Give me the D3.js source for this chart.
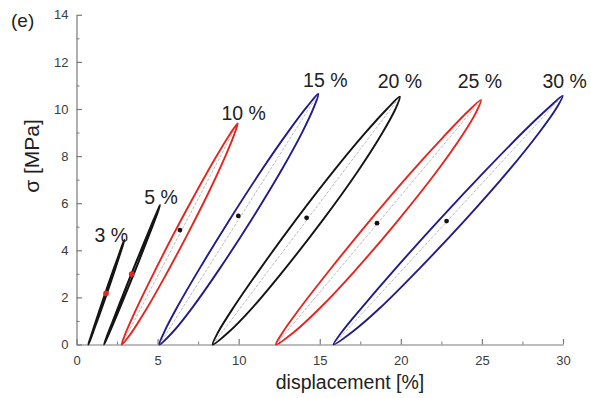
<!DOCTYPE html>
<html>
<head>
<meta charset="utf-8">
<script src="https://cdn.jsdelivr.net/npm/d3@7/dist/d3.min.js"></script>
<style>
  html, body { margin: 0; padding: 0; background: #fff; }
  svg { display: block; font-family: "Liberation Sans", Arial, sans-serif; }
</style>
</head>
<body>
<svg id="chart" width="591" height="398"></svg>
<script>
// ---------- data (displacement [%], stress [MPa]) ----------
const strainLabels = ["3 %", "5 %", "10 %", "15 %", "20 %", "25 %", "30 %"];
const loopColors = ["black", "black", "red", "navy", "black", "red", "navy"];

// loading (lower) branches, bottom -> peak
const load3  = [[0.73,0],[0.86,0.22],[1.10,0.67],[1.45,1.33],[1.90,2.22],[2.34,3.11],[2.65,3.77],[2.86,4.22],[2.95,4.44]];
const load5  = [[1.70,0],[1.90,0.30],[2.27,0.89],[2.81,1.78],[3.51,2.96],[4.19,4.14],[4.69,5.03],[5.01,5.62],[5.15,5.92]];
const load10 = [[2.79,0],[3.36,0.47],[4.23,1.41],[5.40,2.82],[6.86,4.70],[8.23,6.57],[9.17,7.98],[9.73,8.92],[9.94,9.39]];
const load15 = [[5.11,0],[5.94,0.53],[7.18,1.60],[8.80,3.19],[10.81,5.32],[12.68,7.45],[13.94,9.04],[14.66,10.11],[14.91,10.64]];
const load20 = [[8.40,0],[9.39,0.53],[10.87,1.58],[12.79,3.16],[15.16,5.26],[17.35,7.36],[18.82,8.94],[19.66,9.99],[19.94,10.52]];
const load25 = [[12.30,0],[13.40,0.52],[15.03,1.56],[17.14,3.11],[19.73,5.19],[22.13,7.27],[23.73,8.82],[24.64,9.86],[24.94,10.38]];
const load30 = [[15.85,0],[17.00,0.53],[18.76,1.58],[21.07,3.17],[23.96,5.28],[26.66,7.39],[28.51,8.98],[29.59,10.03],[29.98,10.56]];

// unloading (upper) branches, bottom -> peak
const unload3  = [[0.73,0],[0.83,0.22],[1.04,0.67],[1.36,1.33],[1.79,2.22],[2.24,3.11],[2.59,3.77],[2.82,4.22],[2.95,4.44]];
const unload5  = [[1.70,0],[1.85,0.30],[2.18,0.89],[2.68,1.78],[3.36,2.96],[4.06,4.14],[4.59,5.03],[4.96,5.62],[5.15,5.92]];
const unload10 = [[2.79,0],[3.02,0.47],[3.62,1.41],[4.61,2.82],[6.00,4.70],[7.46,6.57],[8.62,7.98],[9.45,8.92],[9.94,9.39]];
const unload15 = [[5.11,0],[5.41,0.53],[6.22,1.60],[7.56,3.19],[9.46,5.32],[11.46,7.45],[13.06,9.04],[14.23,10.11],[14.91,10.64]];
const unload20 = [[8.40,0],[8.74,0.53],[9.69,1.58],[11.27,3.16],[13.49,5.26],[15.85,7.36],[17.75,8.94],[19.13,9.99],[19.94,10.52]];
const unload25 = [[12.30,0],[12.72,0.52],[13.80,1.56],[15.55,3.11],[18.00,5.19],[20.58,7.27],[22.63,8.82],[24.09,9.86],[24.94,10.38]];
const unload30 = [[15.85,0],[16.36,0.53],[17.61,1.58],[19.60,3.17],[22.36,5.28],[25.23,7.39],[27.48,8.98],[29.08,10.03],[29.98,10.56]];

// loop centre points
const centerDisp   = [1.82, 3.40, 6.38, 9.98, 14.19, 18.53, 22.82];
const centerStress = [2.17, 2.99, 4.86, 5.46, 5.38, 5.15, 5.24];

// axis ticks
const xTicks = [0, 5, 10, 15, 20, 25, 30];
const xMinorTicks = [2.5, 7.5, 12.5, 17.5, 22.5, 27.5];
const yTicks = [0, 2, 4, 6, 8, 10, 12, 14];
const yMinorTicks = [1, 3, 5, 7, 9, 11, 13];

// ---------- drawing ----------
const loadBranches = [load3, load5, load10, load15, load20, load25, load30];
const unloadBranches = [unload3, unload5, unload10, unload15, unload20, unload25, unload30];

const colorMap = { black: "#141414", red: "#e3261f", navy: "#231c86" };
const svg = d3.select("#chart");
svg.append("rect").attr("width", 591).attr("height", 398).attr("fill", "#fff");

const x = d3.scaleLinear().domain([0, 30]).range([76.5, 563]);
const y = d3.scaleLinear().domain([0, 14]).range([344.5, 14.8]);

const axisColor = "#7a7a7a";
const tickTextColor = "#3a3a3a";

// minor ticks
svg.append("g").attr("transform", "translate(0,344.5)")
  .call(d3.axisBottom(x).tickValues(xMinorTicks).tickSize(-3).tickFormat(""))
  .call(g => g.select(".domain").remove())
  .call(g => g.selectAll("line").attr("stroke", axisColor));
svg.append("g").attr("transform", "translate(76.5,0)")
  .call(d3.axisLeft(y).tickValues(yMinorTicks).tickSize(-3).tickFormat(""))
  .call(g => g.select(".domain").remove())
  .call(g => g.selectAll("line").attr("stroke", axisColor));

// major axes
const xAxis = svg.append("g").attr("transform", "translate(0,344.5)")
  .call(d3.axisBottom(x).tickValues(xTicks).tickSizeInner(-5.5).tickSizeOuter(0).tickPadding(8).tickFormat(d3.format("d")));
const yAxis = svg.append("g").attr("transform", "translate(76.5,0)")
  .call(d3.axisLeft(y).tickValues(yTicks).tickSizeInner(-5.5).tickSizeOuter(0).tickPadding(8).tickFormat(d3.format("d")));
[xAxis, yAxis].forEach(g => {
  g.select(".domain").attr("stroke", axisColor).attr("stroke-width", 1.2);
  g.selectAll(".tick line").attr("stroke", axisColor).attr("stroke-width", 1.2);
  g.selectAll(".tick text").attr("fill", tickTextColor).style("font-size", "13px")
    .style("font-family", "'Liberation Sans', Arial, sans-serif");
});
xAxis.selectAll(".tick text").attr("y", 11);

// loops
const line = d3.line().x(d => x(d[0])).y(d => y(d[1])).curve(d3.curveCatmullRomClosed.alpha(0.5));

loadBranches.forEach((lb, i) => {
  const ub = unloadBranches[i];
  const col = colorMap[loopColors[i]];
  const pts = lb.slice(0, lb.length - 1).concat(ub.slice(1).reverse());
  // dashed grey chord
  svg.append("line")
    .attr("x1", x(lb[0][0])).attr("y1", y(lb[0][1]))
    .attr("x2", x(lb[lb.length - 1][0])).attr("y2", y(lb[lb.length - 1][1]))
    .attr("stroke", "#a8a8a8").attr("stroke-width", 0.8).attr("stroke-dasharray", "3,1.5");
  svg.append("path")
    .attr("d", line(pts))
    .attr("fill", "none")
    .attr("stroke", col)
    .attr("stroke-width", i < 2 ? 2.0 : 1.9)
    .attr("stroke-linejoin", "round");
});

// centre dots
centerDisp.forEach((d, i) => {
  svg.append("circle")
    .attr("cx", x(d)).attr("cy", y(centerStress[i]))
    .attr("r", i < 2 ? 2.8 : 2.4)
    .attr("fill", i < 2 ? "#e3261f" : "#141414");
});

// strain labels (pixel offsets from each loop's peak)
const labelOffsets = [[-13, 2], [1, -1], [6, -3], [7, -7], [0, -9], [-1, -12], [2, -8]];
strainLabels.forEach((t, i) => {
  const peak = loadBranches[i][loadBranches[i].length - 1];
  svg.append("text")
    .attr("x", x(peak[0]) + labelOffsets[i][0])
    .attr("y", y(peak[1]) + labelOffsets[i][1])
    .attr("text-anchor", "middle")
    .attr("fill", "#222")
    .style("font-size", "19.5px")
    .text(t);
});

// axis titles
svg.append("text")
  .attr("x", 350).attr("y", 389)
  .attr("text-anchor", "middle")
  .attr("fill", "#222")
  .style("font-size", "19.5px")
  .text("displacement [%]");
svg.append("text")
  .attr("transform", "translate(39,156) rotate(-90)")
  .attr("text-anchor", "middle")
  .attr("fill", "#222")
  .style("font-size", "21px")
  .text("σ [MPa]");

// panel letter
svg.append("text")
  .attr("x", 11).attr("y", 27)
  .attr("fill", "#222")
  .style("font-size", "19px")
  .text("(e)");
</script>
</body>
</html>
